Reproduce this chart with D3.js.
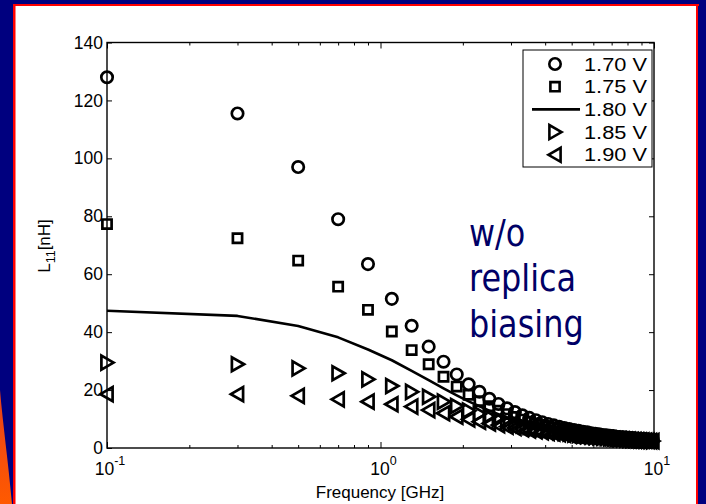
<!DOCTYPE html>
<html>
<head>
<meta charset="utf-8">
<script src="https://cdn.jsdelivr.net/npm/d3@7/dist/d3.min.js"></script>
<style>
  html, body { margin: 0; padding: 0; background: #ffffff; }
  svg { display: block; }
</style>
</head>
<body>
<div id="chart"></div>
<script>
// Sweep frequencies (GHz)
const freqGHz = [0.1, 0.3, 0.5, 0.7, 0.9, 1.1, 1.3, 1.5, 1.7, 1.9,
                 2.1, 2.3, 2.5, 2.7, 2.9, 3.1, 3.3, 3.5, 3.7, 3.9,
                 4.1, 4.3, 4.5, 4.7, 4.9, 5.1, 5.3, 5.5, 5.7, 5.9,
                 6.1, 6.3, 6.5, 6.7, 6.9, 7.1, 7.3, 7.5, 7.7, 7.9,
                 8.1, 8.3, 8.5, 8.7, 8.9, 9.1, 9.3, 9.5, 9.7, 9.9];

// L11 (nH) for each bias voltage
const l11_170 = [128, 115.5, 97, 79, 63.5, 51.5, 42.2, 35, 29.8, 25.4,
                 22, 19.4, 17, 15.2, 13.7, 12.4, 11.3, 10.4, 9.6, 8.9,
                 8.3, 7.8, 7.3, 6.9, 6.5, 6.2, 5.9, 5.6, 5.4, 5.1,
                 4.9, 4.7, 4.5, 4.4, 4.2, 4.1, 3.9, 3.8, 3.7, 3.6,
                 3.5, 3.4, 3.3, 3.2, 3.1, 3.05, 3.0, 2.9, 2.85, 2.8];
const l11_175 = [77.3, 72.4, 64.7, 55.7, 47.7, 40.2, 33.8, 28.9, 24.6, 21.2,
                 18.4, 16.2, 14.4, 12.9, 11.7, 10.7, 9.8, 9.1, 8.5, 7.9,
                 7.4, 7.0, 6.6, 6.2, 5.9, 5.6, 5.4, 5.1, 4.9, 4.7,
                 4.5, 4.4, 4.2, 4.1, 3.9, 3.8, 3.7, 3.6, 3.5, 3.4,
                 3.3, 3.25, 3.15, 3.1, 3.0, 2.95, 2.9, 2.85, 2.8, 2.75];
const l11_180 = [47.4, 45.6, 42.1, 38.2, 34.0, 30.3, 26.6, 23.4, 20.6, 18.2,
                 16.1, 14.4, 12.9, 11.7, 10.6, 9.7, 8.9, 8.3, 7.7, 7.2,
                 6.7, 6.3, 5.9, 5.6, 5.3, 5.0, 4.8, 4.6, 4.4, 4.2,
                 4.0, 3.9, 3.75, 3.6, 3.5, 3.4, 3.3, 3.2, 3.1, 3.05,
                 2.95, 2.9, 2.8, 2.75, 2.7, 2.65, 2.6, 2.55, 2.5, 2.45];
const l11_185 = [29.5, 28.9, 27.5, 25.8, 23.7, 21.4, 19.4, 17.7, 16.0, 14.5,
                 12.9, 11.8, 10.8, 9.9, 9.1, 8.5, 7.9, 7.4, 6.9, 6.5,
                 6.1, 5.8, 5.5, 5.2, 5.0, 4.7, 4.5, 4.3, 4.2, 4.0,
                 3.85, 3.7, 3.6, 3.5, 3.4, 3.3, 3.2, 3.1, 3.05, 2.95,
                 2.9, 2.8, 2.75, 2.7, 2.65, 2.6, 2.55, 2.5, 2.45, 2.4];
const l11_190 = [18.6, 18.6, 18.0, 16.8, 16.0, 15.1, 14.3, 13.1, 12.0, 10.8,
                 9.9, 9.1, 8.5, 7.9, 7.4, 6.9, 6.5, 6.1, 5.8, 5.5,
                 5.2, 5.0, 4.8, 4.6, 4.4, 4.2, 4.05, 3.9, 3.8, 3.65,
                 3.55, 3.45, 3.35, 3.25, 3.15, 3.1, 3.0, 2.95, 2.9, 2.85,
                 2.8, 2.75, 2.7, 2.65, 2.6, 2.55, 2.5, 2.45, 2.4, 2.35];

const seriesNames = ["1.70 V", "1.75 V", "1.80 V", "1.85 V", "1.90 V"];
const seriesStyles = ["circle", "square", "line", "triRight", "triLeft"];
const yTickValues = [0, 20, 40, 60, 80, 100, 120, 140];
const xMajorTicks = [0.1, 1, 10];
const xMajorExponents = ["-1", "0", "1"];
const annotationLines = ["w/o", "replica", "biasing"];

const W = 706, H = 504;
const svg = d3.select("#chart").append("svg").attr("width", W).attr("height", H);

// Slide frame: navy strips, red rules, and the flame accent at lower left
const defs = svg.append("defs");
const grad = defs.append("linearGradient").attr("id", "flame")
  .attr("x1", 0).attr("y1", 0).attr("x2", 0).attr("y2", 1);
grad.append("stop").attr("offset", "0%").attr("stop-color", "#e8401a");
grad.append("stop").attr("offset", "100%").attr("stop-color", "#ff5a00");

svg.append("rect").attr("x", 0).attr("y", 0).attr("width", W).attr("height", H).attr("fill", "#ffffff");
svg.append("rect").attr("x", 0).attr("y", 0).attr("width", W).attr("height", 4).attr("fill", "#00007f");
svg.append("rect").attr("x", 0).attr("y", 0).attr("width", 13).attr("height", H).attr("fill", "#00007f");
svg.append("rect").attr("x", 698).attr("y", 0).attr("width", 8).attr("height", H).attr("fill", "#00007f");
svg.append("path").attr("d", "M0,390 C3,425 8,460 12,504 L0,504 Z").attr("fill", "url(#flame)");
svg.append("rect").attr("x", 13).attr("y", 4).attr("width", 686).attr("height", 2).attr("fill", "#ff0000");
svg.append("rect").attr("x", 13).attr("y", 4).attr("width", 2.5).attr("height", H).attr("fill", "#ff0000");
svg.append("rect").attr("x", 696).attr("y", 4).attr("width", 2).attr("height", H).attr("fill", "#ff0000");

// Plot geometry
const plotLeft = 107, plotRight = 654, plotTop = 42.5, plotBottom = 448;
const x = d3.scaleLog().domain([0.1, 10]).range([plotLeft, plotRight]);
const y = d3.scaleLinear().domain([0, 140]).range([plotBottom, plotTop]);

const axisFont = "'Liberation Sans', Arial, Helvetica, sans-serif";

// Minor log ticks
const minorTicks = [];
[0.1, 1].forEach(d => { for (let k = 2; k <= 9; k++) minorTicks.push(d * k); });

function styleAxis(g) {
  g.select(".domain").remove();
  g.selectAll(".tick line").attr("stroke", "#000").attr("stroke-width", 1);
}

// Left axis with labels (ticks point inward)
svg.append("g").attr("transform", `translate(${plotLeft},0)`)
  .call(d3.axisLeft(y).tickValues(yTickValues).tickSizeInner(-5).tickSizeOuter(0).tickPadding(4))
  .call(styleAxis)
  .call(g => g.selectAll(".tick text").attr("font-family", axisFont).attr("font-size", 17.5).attr("fill", "#000"));

// Right axis (ticks only)
svg.append("g").attr("transform", `translate(${plotRight},0)`)
  .call(d3.axisRight(y).tickValues(yTickValues).tickSizeInner(-5).tickSizeOuter(0).tickFormat(""))
  .call(styleAxis);

// Bottom / top major and minor ticks
[[plotBottom, d3.axisBottom], [plotTop, d3.axisTop]].forEach(([yy, ax]) => {
  svg.append("g").attr("transform", `translate(0,${yy})`)
    .call(ax(x).tickValues(xMajorTicks).tickSizeInner(-6).tickSizeOuter(0).tickFormat(""))
    .call(styleAxis);
  svg.append("g").attr("transform", `translate(0,${yy})`)
    .call(ax(x).tickValues(minorTicks).tickSizeInner(-3).tickSizeOuter(0).tickFormat(""))
    .call(styleAxis);
});

// Power-of-ten labels
xMajorTicks.forEach((v, i) => {
  const t = svg.append("text")
    .attr("x", x(v) + 3).attr("y", 475)
    .attr("text-anchor", "middle")
    .attr("font-family", axisFont).attr("font-size", 17.5).attr("fill", "#000");
  t.append("tspan").text("10");
  t.append("tspan").attr("dy", -10).attr("font-size", 12.5).text(xMajorExponents[i]);
});

// Axes frame
svg.append("rect").attr("x", plotLeft).attr("y", plotTop)
  .attr("width", plotRight - plotLeft).attr("height", plotBottom - plotTop)
  .attr("fill", "none").attr("stroke", "#000").attr("stroke-width", 1.4);

// Axis titles
svg.append("text").attr("x", (plotLeft + plotRight) / 2 - 0.5).attr("y", 498)
  .attr("text-anchor", "middle").attr("font-family", axisFont).attr("font-size", 17)
  .attr("fill", "#000").text("Frequency [GHz]");

const yl = svg.append("text")
  .attr("transform", "translate(50,246) rotate(-90)")
  .attr("text-anchor", "middle").attr("font-family", axisFont).attr("font-size", 17).attr("fill", "#000");
yl.append("tspan").text("L");
yl.append("tspan").attr("dy", 5).attr("font-size", 12.5).text("11");
yl.append("tspan").attr("dy", -5).text("[nH]");

// Marker shapes
const markerPath = {
  circle: () => d3.symbol().type(d3.symbolCircle).size(Math.PI * 5.7 * 5.7)(),
  square: () => "M-4.6,-4.6H4.6V4.6H-4.6Z",
  triRight: () => "M6.6,0L-5.6,-7L-5.6,7Z",
  triLeft: () => "M-6.6,0L5.6,-7L5.6,7Z"
};

const allSeries = [l11_170, l11_175, l11_180, l11_185, l11_190];
const plot = svg.append("g");

allSeries.forEach((vals, si) => {
  const style = seriesStyles[si];
  const pts = freqGHz.map((f, i) => [f, vals[i]]);
  if (style === "line") {
    plot.append("path")
      .attr("d", d3.line().x(d => x(d[0])).y(d => y(d[1]))(pts))
      .attr("fill", "none").attr("stroke", "#000").attr("stroke-width", 2.6)
      .attr("stroke-linejoin", "round");
  } else {
    plot.append("g").selectAll("path").data(pts).join("path")
      .attr("transform", d => `translate(${x(d[0])},${y(d[1])})`)
      .attr("d", markerPath[style]())
      .attr("fill", "none").attr("stroke", "#000").attr("stroke-width", 2.7)
      .attr("stroke-linejoin", "miter");
  }
});

// Legend
const legend = svg.append("g");
legend.append("rect").attr("x", 523).attr("y", 50).attr("width", 129).attr("height", 117)
  .attr("fill", "#fff").attr("stroke", "#000").attr("stroke-width", 1);
seriesNames.forEach((name, i) => {
  const cy = 64 + i * 22.7;
  if (seriesStyles[i] === "line") {
    legend.append("line").attr("x1", 532).attr("x2", 580).attr("y1", cy).attr("y2", cy)
      .attr("stroke", "#000").attr("stroke-width", 2.6);
  } else {
    legend.append("path").attr("transform", `translate(555,${cy})`)
      .attr("d", markerPath[seriesStyles[i]]())
      .attr("fill", "none").attr("stroke", "#000").attr("stroke-width", 2.6);
  }
  legend.append("text").attr("x", 584).attr("y", cy + 6.5)
    .attr("font-family", axisFont).attr("font-size", 18)
    .attr("textLength", 63).attr("lengthAdjust", "spacingAndGlyphs")
    .attr("fill", "#000").text(name);
});

// Annotation
const note = svg.append("g").attr("transform", "translate(469,0) scale(0.84,1)");
annotationLines.forEach((line, i) => {
  note.append("text").attr("x", 0).attr("y", 246 + i * 45.5)
    .attr("font-family", "'DejaVu Sans', Verdana, sans-serif").attr("font-size", 38)
    .attr("fill", "#000066").text(line);
});
</script>
</body>
</html>
